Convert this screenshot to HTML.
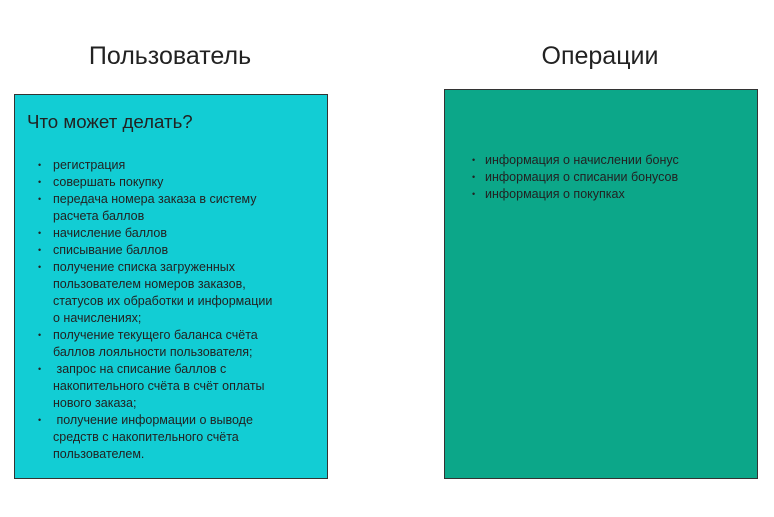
<!DOCTYPE html>
<html><head><meta charset="utf-8"><style>
body{margin:0;width:774px;height:517px;background:#fff;position:relative;font-family:"Liberation Sans",sans-serif;color:#222;overflow:hidden}
.h{position:absolute;font-size:25px;top:41px;width:300px;text-align:center;color:#222;line-height:30px}
.box{position:absolute;border:1px solid #333;box-sizing:border-box}
.l{position:absolute;font-size:12.5px;white-space:nowrap;line-height:17px}
.b{position:absolute;font-size:9px;line-height:17px}
</style></head><body>
<div class="h" style="left:20px">Пользователь</div>
<div class="h" style="left:450px">Операции</div>
<div class="box" style="left:14px;top:94px;width:314px;height:385px;background:#12CDD4"></div>
<div class="box" style="left:444px;top:89px;width:314px;height:390px;background:#0CA789"></div>
<div class="l" style="left:27px;top:111px;font-size:18.7px;line-height:22px">Что может делать?</div>
<div id="L"></div>
<script>
var items=[[0,"регистрация"],[0,"совершать покупку"],[0,"передача номера заказа в систему"],[1,"расчета баллов"],[0,"начисление баллов"],[0,"списывание баллов"],[0,"получение списка загруженных"],[1,"пользователем номеров заказов,"],[1,"статусов их обработки и информации"],[1,"о начислениях;"],[0,"получение текущего баланса счёта"],[1,"баллов лояльности пользователя;"],[0," запрос на списание баллов с"],[1,"накопительного счёта в счёт оплаты"],[1,"нового заказа;"],[0," получение информации о выводе"],[1,"средств с накопительного счёта"],[1,"пользователем."]];
var h="";
items.forEach(function(it,i){var y=157+i*17;if(!it[0])h+='<div class="b" style="left:38px;top:'+y+'px">•</div>';h+='<div class="l" style="left:53px;top:'+y+'px">'+it[1].replace(/^ /,"&nbsp;")+'</div>';});
["информация о начислении бонус","информация о списании бонусов","информация о покупках"].forEach(function(t,i){var y=152+i*17;h+='<div class="b" style="left:472px;top:'+y+'px">•</div><div class="l" style="left:485px;top:'+y+'px">'+t+'</div>';});
document.getElementById("L").innerHTML=h;
</script>
</body></html>
